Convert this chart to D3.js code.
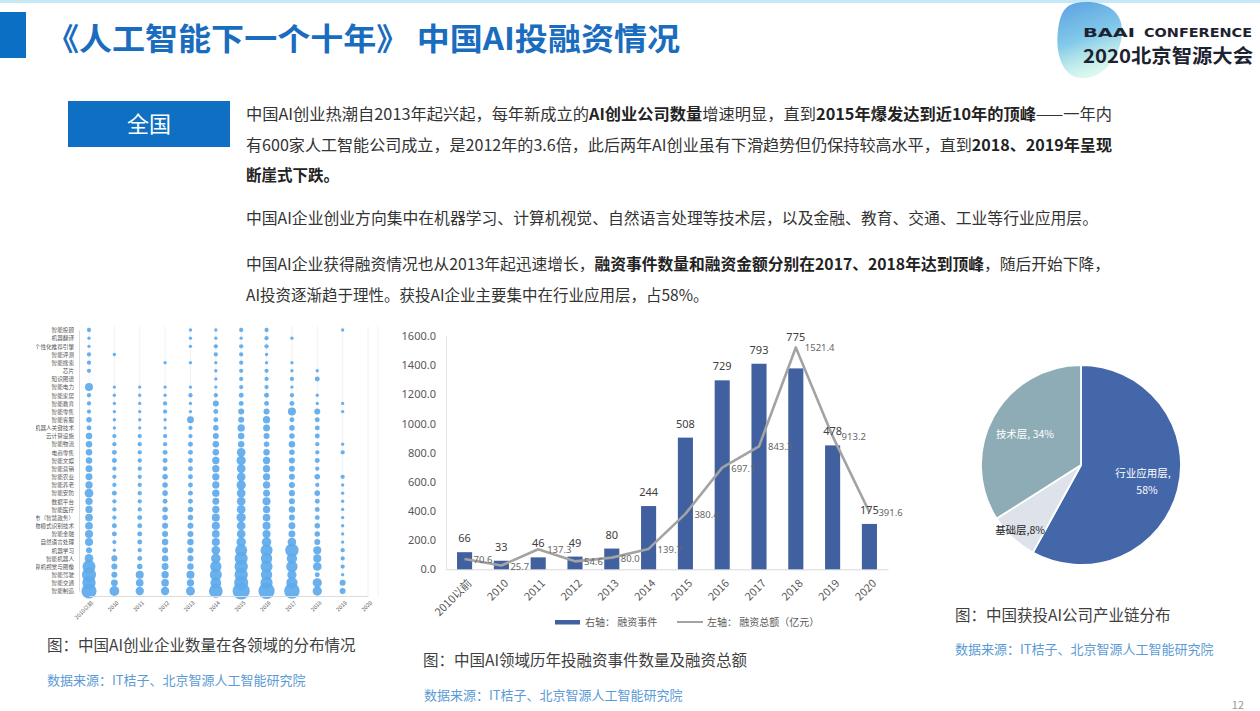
<!DOCTYPE html>
<html><head><meta charset="utf-8">
<script src="https://cdn.jsdelivr.net/npm/d3@7"></script>
<style>
body{margin:0;background:#fff;}
svg{display:block;font-family:"Noto Sans CJK SC","Noto Sans",sans-serif;}
</style>
</head><body>
<svg id="c" width="1260" height="711"></svg>
<script>
// ---------------- data ----------------
const fields = ["智能投顾","机器翻译","个性化推荐引擎","智能评测","智能搜索","芯片","知识图谱","智能电力","智能家居","智能教育","智能零售","智能客服","机器人关键技术","云计算设施","智能物流","电商零售","智能文娱","智能营销","智能农业","智能养老","智能安防","数据平台","智能医疗","智慧城市（智慧政务）","生物模式识别技术","智能金融","自然语言处理","机器学习","智能机器人","计算机视觉与图像","智能驾驶","智能交通","智能制造"];
const years = ["2010以前","2010","2011","2012","2013","2014","2015","2016","2017","2018","2019","2020"];
const startupCounts = [
 [2,0,0,0,1,1,2,2,0,0,1,0],
 [1,0,0,0,1,1,1,2,1,0,0,0],
 [1,0,0,0,1,2,2,2,0,0,0,0],
 [2,1,0,0,0,2,2,1,0,0,0,0],
 [2,0,0,1,1,1,2,1,1,0,0,0],
 [2,0,0,0,0,1,2,2,1,1,0,0],
 [0,0,0,0,0,1,2,2,2,3,0,0],
 [10,1,1,1,1,1,2,2,1,0,0,0],
 [2,1,1,1,2,2,3,3,2,1,0,0],
 [2,1,1,2,1,5,3,3,3,1,1,0],
 [2,1,1,2,1,3,5,5,10,5,1,0],
 [4,1,1,1,7,3,5,8,3,3,0,0],
 [3,1,1,1,2,4,8,7,4,3,0,0],
 [6,2,2,2,2,5,6,5,4,3,0,0],
 [6,2,2,2,3,6,6,4,6,2,1,0],
 [6,3,2,3,3,6,12,6,4,2,2,0],
 [6,3,2,3,3,8,14,8,5,3,0,0],
 [7,2,2,3,3,8,12,8,5,2,0,0],
 [7,2,2,4,3,8,12,8,5,4,2,0],
 [8,2,2,4,3,8,14,8,5,2,1,0],
 [12,3,2,4,3,8,12,7,5,4,1,0],
 [8,2,2,3,3,7,12,10,5,3,1,0],
 [8,2,2,4,4,8,12,8,6,3,1,0],
 [9,2,3,4,4,10,14,9,5,3,1,0],
 [9,3,3,5,5,10,12,10,7,4,1,0],
 [10,3,3,5,5,9,12,10,7,4,1,0],
 [10,2,3,6,6,10,15,15,12,5,1,0],
 [5,1,2,5,5,12,25,25,32,10,2,0],
 [12,5,3,6,5,15,30,22,18,10,2,0],
 [30,5,4,7,6,22,32,25,22,12,2,0],
 [36,5,10,8,10,25,32,22,14,3,1,0],
 [32,7,9,9,8,20,36,26,22,14,5,0],
 [42,16,11,11,13,34,55,48,44,14,5,0]
];
const finYears = ["2010以前","2010","2011","2012","2013","2014","2015","2016","2017","2018","2019","2020"];
const finEvents = [66,33,46,49,80,244,508,729,793,775,478,175];
const finAmount = [70.6,25.7,137.3,54.6,80.0,139.7,380.4,697.1,843.3,1521.4,913.2,391.6];
const leftTicks = [0,200,400,600,800,1000,1200,1400,1600];
const pieLabels = ["行业应用层","基础层","技术层"];
const pieValues = [58,8,34];

const titleText = "《人工智能下一个十年》 中国AI投融资情况";
const para = [
 [["中国AI创业热潮自2013年起兴起，每年新成立的",0],["AI创业公司数量",1],["增速明显，直到",0],["2015年爆发达到近10年的顶峰",1],["——一年内",0]],
 [["有600家人工智能公司成立，是2012年的3.6倍，此后两年AI创业虽有下滑趋势但仍保持较高水平，直到",0],["2018、2019年呈现",1]],
 [["断崖式下跌。",1]],
 [["中国AI企业创业方向集中在机器学习、计算机视觉、自然语言处理等技术层，以及金融、教育、交通、工业等行业应用层。",0]],
 [["中国AI企业获得融资情况也从2013年起迅速增长，",0],["融资事件数量和融资金额分别在2017、2018年达到顶峰",1],["，随后开始下降，",0]],
 [["AI投资逐渐趋于理性。获投AI企业主要集中在行业应用层，占58%。",0]]
];
const source = "数据来源：IT桔子、北京智源人工智能研究院";

// ---------------- drawing ----------------
const svg = d3.select("#c");
const defs = svg.append("defs");

// top strip
svg.append("rect").attr("x",0).attr("y",0).attr("width",1260).attr("height",3).attr("fill","#c5e9f7");

// title
svg.append("rect").attr("x",0).attr("y",12).attr("width",26).attr("height",46).attr("fill","#0b6fc4");
svg.append("text").attr("x",46).attr("y",50).attr("font-size",31).attr("font-weight",700)
  .attr("fill","#1a6cbf").attr("textLength",634).attr("lengthAdjust","spacingAndGlyphs").text(titleText);

// logo
const lg = defs.append("linearGradient").attr("id","lg").attr("x1",0).attr("y1",0).attr("x2",0.3).attr("y2",1);
lg.append("stop").attr("offset","0%").attr("stop-color","#3f8fdc");
lg.append("stop").attr("offset","55%").attr("stop-color","#6cc0e6");
lg.append("stop").attr("offset","100%").attr("stop-color","#a6ecd8").attr("stop-opacity",0.5);
svg.append("path").attr("d","M1076,3 C1100,-1 1124,8 1122,34 C1120,60 1100,80 1080,78 C1062,76 1055,52 1058,30 C1060,12 1066,5 1076,3 Z")
  .attr("fill","url(#lg)").attr("opacity",0.85);
svg.append("text").attr("x",1083).attr("y",37).attr("font-size",13).attr("font-weight",700).attr("fill","#1d2230")
  .attr("font-family","DejaVu Sans, sans-serif").attr("textLength",52).attr("lengthAdjust","spacingAndGlyphs").text("BAAI");
svg.append("text").attr("x",1144).attr("y",37).attr("font-size",13).attr("font-weight",700).attr("fill","#1d2230")
  .attr("font-family","DejaVu Sans, sans-serif").attr("textLength",108).attr("lengthAdjust","spacingAndGlyphs").text("CONFERENCE");
svg.append("text").attr("x",1083).attr("y",63).attr("font-size",19).attr("font-weight",700).attr("fill","#1d2230")
  .attr("textLength",170).attr("lengthAdjust","spacingAndGlyphs").text("2020北京智源大会");

// 全国 box
svg.append("rect").attr("x",68).attr("y",101).attr("width",162).attr("height",46).attr("fill","#0f6fc3");
svg.append("text").attr("x",149).attr("y",132).attr("text-anchor","middle").attr("font-size",22).attr("fill","#fff").text("全国");

// paragraph
const paraY = [120,151,181,224,270,301];
const paraLen = [866,866,null,852,864,null];
para.forEach((line,i)=>{
  const t = svg.append("text").attr("x",246).attr("y",paraY[i]).attr("font-size",15.5).attr("fill","#333");
  if(paraLen[i]) t.attr("textLength",paraLen[i]).attr("lengthAdjust","spacingAndGlyphs");
  line.forEach(s=>t.append("tspan").attr("font-weight",s[1]?700:400).attr("fill",s[1]?"#222":"#333").text(s[0]));
});

// ---------- bubble chart ----------
const bx = d3.scalePoint().domain(years).range([89,368]);
const by = d3.scalePoint().domain(fields).range([330,591]);
const br = d3.scaleSqrt().domain([0,55]).range([0.6,8.6]);
const gb = svg.append("g");
const clip = defs.append("clipPath").attr("id","bclip");
clip.append("rect").attr("x",36).attr("y",320).attr("width",350).attr("height",300);
gb.attr("clip-path","url(#bclip)");
years.forEach(yr=>{
  gb.append("line").attr("x1",bx(yr)).attr("x2",bx(yr)).attr("y1",326).attr("y2",596).attr("stroke","#eeeff3").attr("stroke-width",0.8);
});
gb.append("line").attr("x1",378).attr("x2",378).attr("y1",326).attr("y2",596).attr("stroke","#eeeeee").attr("stroke-width",0.8);
const cells = [];
startupCounts.forEach((row,i)=>row.forEach((v,j)=>{ if(v>0) cells.push({f:fields[i],y:years[j],v}); }));
gb.selectAll("circle.b").data(cells).enter().append("circle")
  .attr("cx",d=>bx(d.y)).attr("cy",d=>by(d.f)).attr("r",d=>br(d.v))
  .attr("fill","#5ca9ec").attr("fill-opacity",0.92);
const bAxL = gb.append("g").attr("transform","translate(79,0)").call(d3.axisLeft(by).tickSize(0).tickPadding(5));
bAxL.select(".domain").attr("stroke","#dcdcdc");
bAxL.selectAll("text").attr("font-size",5.6).attr("fill","#555").attr("font-family","Noto Sans CJK SC");
const bAxB = gb.append("g").attr("transform","translate(0,596)").call(d3.axisBottom(bx).tickSize(0).tickPadding(0));
bAxB.select(".domain").attr("stroke","#dcdcdc");
bAxB.selectAll("text").attr("font-size",5.6).attr("fill","#666").attr("font-family","Noto Sans CJK SC")
  .attr("text-anchor","end").attr("transform","translate(3,6) rotate(-45)").attr("dy","0.3em");

svg.append("text").attr("x",47).attr("y",651).attr("font-size",15.5).attr("fill","#404040").text("图：中国AI创业企业数量在各领域的分布情况");
svg.append("text").attr("x",47).attr("y",685).attr("font-size",13).attr("fill","#5b9bd5").text(source);

// ---------- bar + line chart ----------
const xb = d3.scaleBand().domain(finYears).range([446,888]).paddingInner(0.59).paddingOuter(0.3);
const yL = d3.scaleLinear().domain([0,1600]).range([569.3,336]);
const yR = d3.scaleLinear().domain([0,900]).range([569.3,336]);
const gc = svg.append("g");
const axL = gc.append("g").attr("transform","translate(446,0)")
  .call(d3.axisLeft(yL).tickValues(leftTicks).tickFormat(d3.format(".1f")).tickSize(0).tickPadding(10));
axL.select(".domain").attr("stroke","#e3e3e3");
axL.selectAll("text").attr("font-size",11).attr("fill","#595959").attr("font-family","Noto Sans, sans-serif");
const axB = gc.append("g").attr("transform","translate(0,569.3)").call(d3.axisBottom(xb).tickSize(0).tickPadding(0));
axB.select(".domain").attr("stroke","#d9d9d9");
axB.selectAll("text").attr("font-size",11).attr("fill","#595959").attr("font-family","Noto Sans CJK SC")
  .attr("text-anchor","end").attr("dy","0.35em").attr("transform","translate(5,12) rotate(-45)");

gc.selectAll("rect.bar").data(finEvents).enter().append("rect")
  .attr("x",(d,i)=>xb(finYears[i])).attr("width",xb.bandwidth())
  .attr("y",d=>yR(d)).attr("height",d=>yR(0)-yR(d)).attr("fill","#41609f");

const cx = i=>xb(finYears[i])+xb.bandwidth()/2;
gc.append("path").datum(finAmount)
  .attr("d",d3.line().x((d,i)=>cx(i)).y(d=>yL(d)))
  .attr("fill","none").attr("stroke","#a3a3a3").attr("stroke-width",2.6).attr("stroke-linejoin","round");

const maxIdx = finAmount.indexOf(d3.max(finAmount));
gc.selectAll("text.bl").data(finEvents).enter().append("text")
  .attr("x",(d,i)=>cx(i)).attr("y",(d,i)=> i===maxIdx ? yL(finAmount[i])-6 : yR(d)-10)
  .attr("text-anchor","middle").attr("font-size",11).attr("fill","#404040").attr("font-family","Noto Sans, sans-serif")
  .text(d=>d);
gc.selectAll("text.ll").data(finAmount).enter().append("text")
  .attr("x",(d,i)=>cx(i)+9).attr("y",d=>yL(d)+4)
  .attr("font-size",9.5).attr("fill","#666").attr("font-family","Noto Sans, sans-serif")
  .text(d=>d3.format(".1f")(d));

// legend
gc.append("rect").attr("x",555).attr("y",620).attr("width",25).attr("height",4.5).attr("fill","#41609f");
gc.append("text").attr("x",585).attr("y",626).attr("font-size",10).attr("fill","#595959").text("右轴：  融资事件");
gc.append("line").attr("x1",677).attr("x2",703).attr("y1",622).attr("y2",622).attr("stroke","#a3a3a3").attr("stroke-width",2);
gc.append("text").attr("x",707).attr("y",626).attr("font-size",10).attr("fill","#595959").text("左轴：  融资总额（亿元）");

svg.append("text").attr("x",423).attr("y",666).attr("font-size",15.5).attr("fill","#404040").text("图：中国AI领域历年投融资事件数量及融资总额");
svg.append("text").attr("x",424).attr("y",700).attr("font-size",13).attr("fill","#5b9bd5").text(source);

// ---------- pie ----------
const pieColors = ["#4467aa","#dee2eb","#8eacb6"];
const pc = {x:1081,y:465,r:100};
const arcs = d3.pie().sort(null).value(d=>d)(pieValues);
const arc = d3.arc().innerRadius(0).outerRadius(pc.r);
const gp = svg.append("g").attr("transform",`translate(${pc.x},${pc.y})`);
gp.selectAll("path").data(arcs).enter().append("path").attr("d",arc)
  .attr("fill",(d,i)=>pieColors[i]).attr("stroke","#fff").attr("stroke-width",1.8);
arcs.forEach((a,i)=>{
  const rr = a.data < 10 ? pc.r*0.89 : pc.r*0.64;
  const [lx,ly] = d3.arc().innerRadius(rr).outerRadius(rr).centroid(a);
  const col = a.data < 10 ? "#222" : "#fff";
  const t = gp.append("text").attr("x",lx).attr("y",ly).attr("text-anchor","middle")
    .attr("font-size",10.5).attr("fill",col);
  if(a.data === d3.max(pieValues)){
    t.append("tspan").attr("x",lx).attr("dy","-0.35em").text(pieLabels[i]+",");
    t.append("tspan").attr("x",lx+4).attr("dy","1.6em").text(a.data+"%");
  } else {
    t.attr("dy","0.35em").text(pieLabels[i]+(a.data<10?",":", ")+a.data+"%");
  }
});
svg.append("text").attr("x",955).attr("y",621).attr("font-size",15.5).attr("fill","#404040").text("图：中国获投AI公司产业链分布");
svg.append("text").attr("x",955).attr("y",654).attr("font-size",13).attr("fill","#5b9bd5").text(source);

// page number
svg.append("text").attr("x",1244).attr("y",709).attr("text-anchor","end").attr("font-size",11).attr("fill","#999").text("12");
</script>
</body></html>
